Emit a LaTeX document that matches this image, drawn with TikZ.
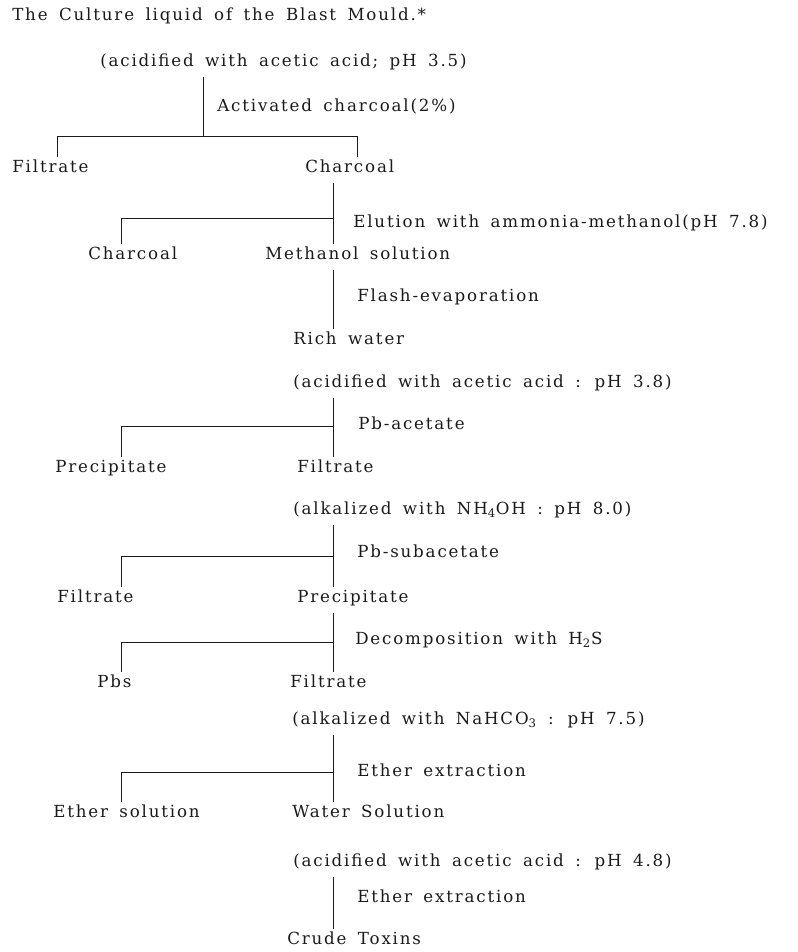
\documentclass[tikz,border=0pt]{standalone}
\usepackage{fontspec}
\setmainfont{DejaVu Serif}[LetterSpace=11, WordSpace=1.6]
\usetikzlibrary{positioning}
\definecolor{Ink}{HTML}{1A1A1A}
\tikzset{
  item/.style={anchor=west, inner xsep=0pt, inner ysep=2pt, text height=9pt,
    text depth=2.5pt, text=Ink, font=\fontsize{12.5}{14}\selectfont},
  link/.style={draw=Ink, line width=0.7pt},
  trunk/.style={link, shorten <=3pt},
}

\begin{document}
\begin{tikzpicture}[x=0.75pt, y=-0.75pt]
  \useasboundingbox (0,0) rectangle (798,952);
  \node (src)   [item] at (12,16)   {The Culture liquid of the Blast Mould.*};
  \node (acid1) [item] at (100,62)  {(acidified with acetic acid; pH 3.5)};
  \node (ads)   [item] at (217,107) {Activated charcoal(2\%)};
  \node (filt1) [item] at (12,168)  {Filtrate};
  \node (char1) [item] at (305,168) {Charcoal};
  \node (elu)   [item] at (353,223) {Elution with ammonia-methanol(pH 7.8)};
  \node (char2) [item] at (88,255)  {Charcoal};
  \node (meth)  [item] at (265,255) {Methanol solution};
  \node (flash) [item] at (357,297) {Flash-evaporation};
  \node (rich)  [item] at (293,340) {Rich water};
  \node (acid2) [item] at (293,383) {(acidified with acetic acid : pH 3.8)};
  \node (pbac)  [item] at (358,425) {Pb-acetate};
  \node (prec1) [item] at (55,468)  {Precipitate};
  \node (filt2) [item] at (297,468) {Filtrate};
  \node (alk1)  [item] at (293,510) {(alkalized with NH\textsubscript{4}OH : pH 8.0)};
  \node (pbsub) [item] at (357,553) {Pb-subacetate};
  \node (filt3) [item] at (57,598)  {Filtrate};
  \node (prec2) [item] at (297,598) {Precipitate};
  \node (dec)   [item] at (355,640) {Decomposition with H\textsubscript{2}S};
  \node (pbs)   [item] at (97,683)  {Pbs};
  \node (filt4) [item] at (290,683) {Filtrate};
  \node (alk2)  [item] at (292,720) {(alkalized with NaHCO\textsubscript{3} : pH 7.5)};
  \node (ext1)  [item] at (357,772) {Ether extraction};
  \node (eth)   [item] at (53,813)  {Ether solution};
  \node (water) [item] at (292,813) {Water Solution};
  \node (acid3) [item] at (293,862) {(acidified with acetic acid : pH 4.8)};
  \node (ext2)  [item] at (357,898) {Ether extraction};
  \node (crude) [item] at (287,940) {Crude Toxins};

  % stems and split points
  \coordinate (stem)  at (203,0);
  \coordinate (spine) at (333,0);
  \coordinate (t1L) at (57,136);  \coordinate (t1R) at (357,136);
  \coordinate (t2) at (121,218);
  \coordinate (t3) at (121,426);
  \coordinate (t4) at (121,556);
  \coordinate (t5) at (121,642);
  \coordinate (t6) at (121,772);

  % first split
  \draw[trunk] (acid1.south -| stem) -- (t1L -| stem);
  \draw[link] (filt1.north -| t1L) -- (t1L) -- (t1R) -- (char1.north -| t1R);

  % charcoal column
  \draw[trunk] (char1.south -| spine) -- (meth.north -| spine);
  \draw[link] (t2 -| spine) -- (t2) -- (char2.north -| t2);
  \draw[trunk] (meth.south -| spine) -- (rich.north -| spine);
  \draw[trunk] (acid2.south -| spine) -- (filt2.north -| spine);
  \draw[link] (t3 -| spine) -- (t3) -- (prec1.north -| t3);
  \draw[trunk] (alk1.south -| spine) -- (prec2.north -| spine);
  \draw[link] (t4 -| spine) -- (t4) -- (filt3.north -| t4);
  \draw[trunk] (prec2.south -| spine) -- (filt4.north -| spine);
  \draw[link] (t5 -| spine) -- (t5) -- (pbs.north -| t5);
  \draw[trunk] (alk2.south -| spine) -- (water.north -| spine);
  \draw[link] (t6 -| spine) -- (t6) -- (eth.north -| t6);
  \draw[trunk] (acid3.south -| spine) -- (crude.north -| spine);
\end{tikzpicture}
\end{document}
